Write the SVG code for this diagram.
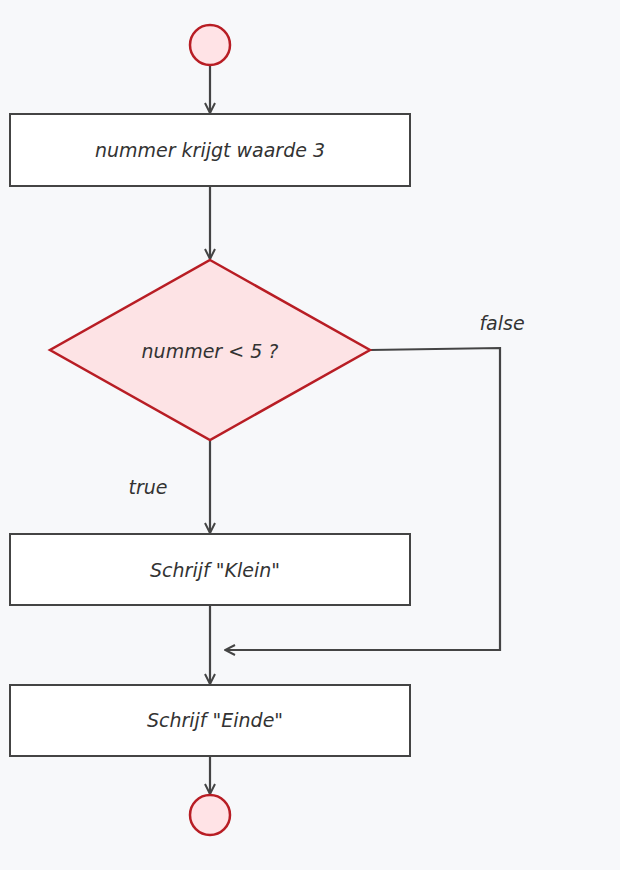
<svg xmlns="http://www.w3.org/2000/svg" width="620" height="870" viewBox="0 0 620 870">
<defs>
<style>
.box{fill:#ffffff;stroke:#444;stroke-width:2}
.term{fill:#ffe3e6;stroke:#b81d24;stroke-width:2.5}
.dec{fill:#fde3e5;stroke:#b81d24;stroke-width:2.5}
.c{fill:none;stroke:#444;stroke-width:2.2}
text{font-family:"DejaVu Sans","Liberation Sans",sans-serif;font-style:italic;font-size:19px;fill:#333;text-anchor:middle}
</style>
<marker id="a" viewBox="0 0 12 12" refX="11" refY="6" markerWidth="12" markerHeight="12" markerUnits="userSpaceOnUse" orient="auto">
<path d="M1 1 L11 6 L1 11" fill="none" stroke="#444" stroke-width="2"/>
</marker>
</defs>
<rect width="620" height="870" fill="#f7f8fa"/>
<g id="connectors">
<line class="c" x1="210" y1="66" x2="210" y2="113" marker-end="url(#a)"/>
<line class="c" x1="210" y1="187" x2="210" y2="259" marker-end="url(#a)"/>
<line class="c" x1="210" y1="441" x2="210" y2="533" marker-end="url(#a)"/>
<polyline class="c" points="370,350 500,348 500,650 225,650" marker-end="url(#a)"/>
<line class="c" x1="210" y1="606" x2="210" y2="684" marker-end="url(#a)"/>
<line class="c" x1="210" y1="757" x2="210" y2="794" marker-end="url(#a)"/>
<text x="148" y="494" font-size="18">true</text>
<text x="502" y="330" font-size="18">false</text>
</g>
<g id="start"><circle class="term" cx="210" cy="45" r="20"/></g>
<g id="n1"><rect class="box" x="10" y="114" width="400" height="72"/><text x="210" y="157">nummer krijgt waarde 3</text></g>
<g id="d1"><polygon class="dec" points="210,260 370,350 210,440 50,350"/><text x="210" y="358">nummer &lt; 5 ?</text></g>
<g id="n2"><rect class="box" x="10" y="534" width="400" height="71"/><text x="215" y="577">Schrijf "Klein"</text></g>
<g id="n3"><rect class="box" x="10" y="685" width="400" height="71"/><text x="215" y="727">Schrijf "Einde"</text></g>
<g id="end"><circle class="term" cx="210" cy="815" r="20"/></g>
</svg>
